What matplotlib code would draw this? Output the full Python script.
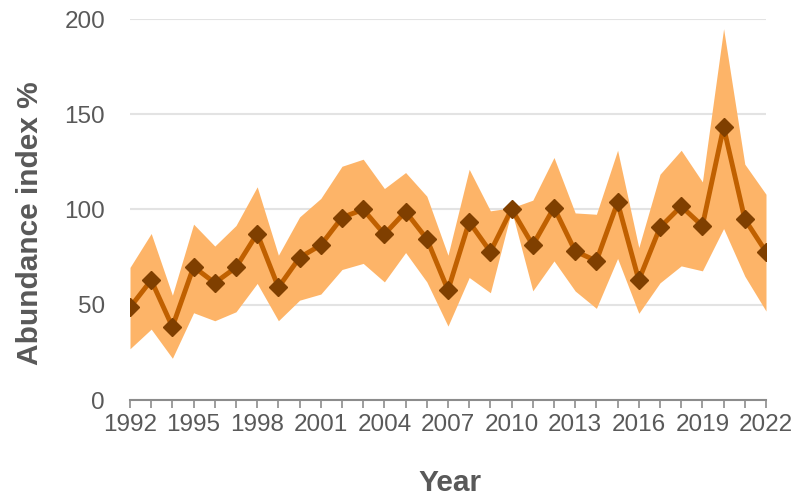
import matplotlib
matplotlib.use("Agg")
import matplotlib.pyplot as plt
import numpy as np

years = list(range(1992, 2023))
index = [48.6, 62.9, 38.4, 69.9, 61.5, 69.6, 87.4, 59.1, 74.8, 81.3,
         95.8, 100.0, 87.0, 98.9, 84.6, 57.7, 93.5, 77.8, 100.2, 81.3,
         101.0, 78.1, 73.0, 103.7, 62.9, 90.6, 101.7, 91.4, 143.3, 94.9, 77.8]
upper = [69.6, 87.4, 55.0, 92.3, 80.8, 91.6, 111.9, 76.0, 96.1, 105.8,
         122.7, 126.4, 111.0, 119.4, 107.0, 76.0, 121.1, 99.3, 100.9, 104.9,
         127.3, 98.2, 97.5, 131.1, 80.0, 118.5, 131.1, 114.5, 194.9, 123.8, 108.0]
lower = [26.9, 37.2, 21.9, 45.8, 41.6, 46.3, 61.2, 41.6, 52.4, 55.6,
         68.5, 71.7, 62.0, 77.4, 62.0, 38.8, 64.3, 56.3, 99.5, 57.3,
         73.0, 57.2, 48.1, 74.3, 45.5, 61.5, 70.4, 67.8, 90.0, 65.0, 46.7]
xticks = list(range(1992, 2023, 3))
yticks = [0, 50, 100, 150, 200]

plt.rcParams['font.family'] = ['Liberation Sans', 'DejaVu Sans']

fig = plt.figure(figsize=(7.94, 4.98), dpi=100)
ax = fig.add_axes([130/794, 1-400/498, 636/794, 381/498])

ax.fill_between(years, lower, upper, color='#FDB468', linewidth=0, zorder=2)
ax.plot(years, index, color='#C06000', linewidth=3.5, zorder=3,
        marker='D', markersize=9, markerfacecolor='#7F3F00',
        markeredgecolor='#7F3F00')

ax.set_xlim(1992, 2022)
ax.set_ylim(0, 200)
ax.set_yticks(yticks)
ax.set_xticks(xticks)
ax.set_xticks(years, minor=True)
ax.yaxis.grid(True, color='#E3E3E3', linewidth=1.5, zorder=0)
ax.set_axisbelow(True)

for s in ['top', 'right', 'left']:
    ax.spines[s].set_visible(False)
ax.spines['bottom'].set_color('#8C8C8C')
ax.spines['bottom'].set_linewidth(1.5)
ax.spines['bottom'].set_zorder(1)

ax.tick_params(axis='y', length=0, pad=18, labelsize=17.5, labelcolor='#595959')
ax.tick_params(axis='x', which='both', length=6, width=1.2, color='#8C8C8C',
               direction='out', labelsize=17.5, labelcolor='#595959', pad=4)
ax.tick_params(axis='x', which='minor', labelbottom=False)

fig.text(450/794, 1-483/498, 'Year', ha='center', va='center',
         fontsize=21.5, fontweight='bold', color='#595959')
fig.text(30/794, 1-223/498, 'Abundance index %', ha='center', va='center',
         rotation=90, fontsize=21.5, fontweight='bold', color='#595959')

fig.savefig('out.png', dpi=100)
